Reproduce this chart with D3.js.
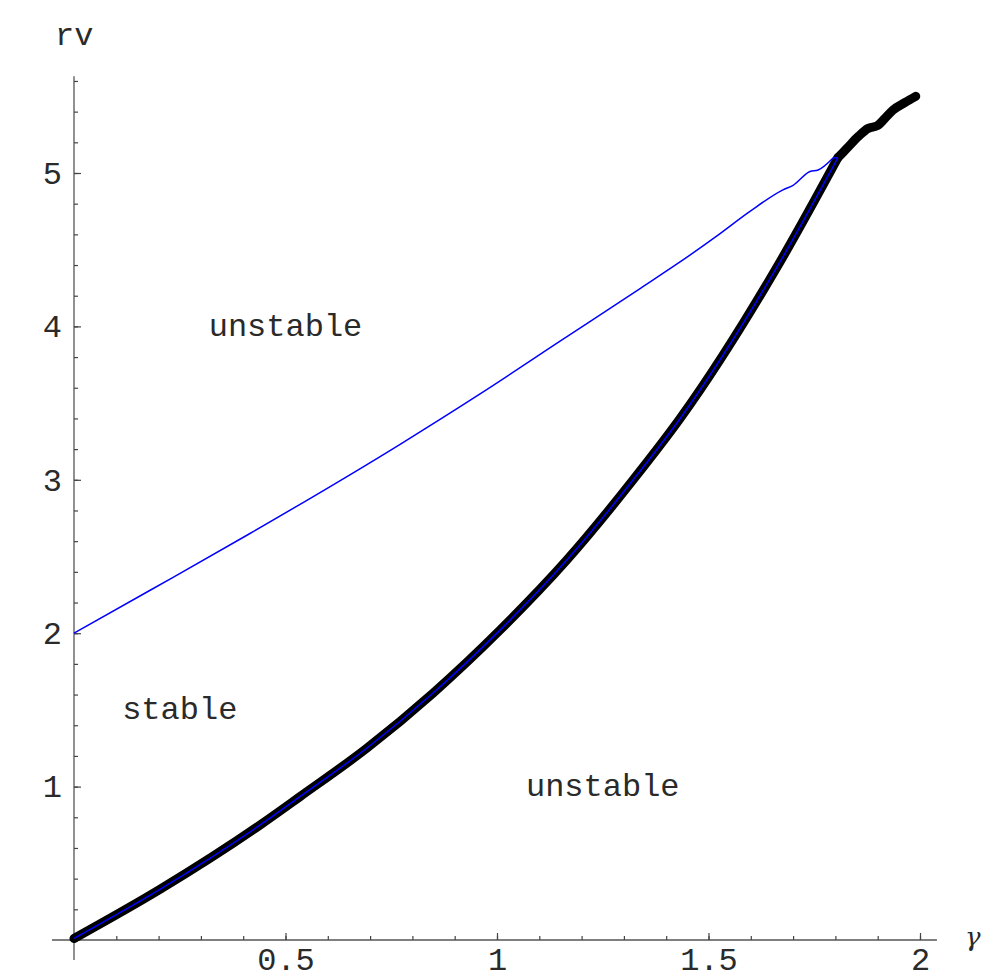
<!DOCTYPE html>
<html>
<head>
<meta charset="utf-8">
<script src="https://cdn.jsdelivr.net/npm/d3@7"></script>
<style>
  body { margin: 0; background: #fff; }
  text { font-family: "Liberation Mono", "Courier New", monospace; fill: #2a2a2a; }
</style>
</head>
<body>
<div id="chart"></div>
<script>
// upper boundary (thin blue)
var upperGamma = [0, 0.18, 0.416, 0.77, 0.96, 1.15, 1.34, 1.43, 1.52, 1.598, 1.676, 1.70, 1.74, 1.759, 1.795];
var upperRv    = [2.0, 2.28, 2.65, 3.23, 3.56, 3.905, 4.25, 4.415, 4.59, 4.75, 4.89, 4.92, 5.01, 5.02, 5.10];

// lower boundary (thick black with blue centre)
var lowerGamma = [0, 0.203, 0.44, 0.534, 0.692, 0.849, 1.007, 1.165, 1.322, 1.433, 1.669, 1.806];
var lowerRv    = [0.01, 0.33, 0.75, 0.934, 1.25, 1.61, 2.02, 2.477, 3.0, 3.40, 4.42, 5.10];

// merged branch beyond the junction (thick black only)
var tailGamma = [1.806, 1.827, 1.855, 1.877, 1.90, 1.915, 1.936, 1.965, 1.99];
var tailRv    = [5.10, 5.16, 5.24, 5.29, 5.31, 5.35, 5.41, 5.46, 5.50];

var xMajor = [0.5, 1, 1.5, 2];
var yMajor = [1, 2, 3, 4, 5];

var labels = [
  {text: "unstable", g: 0.5, r: 4.0},
  {text: "stable", g: 0.25, r: 1.5},
  {text: "unstable", g: 1.25, r: 1.0}
];

var width = 982, height = 973;
var fontSize = "32px";

var x = d3.scaleLinear().domain([0, 2]).range([74, 920]);
var y = d3.scaleLinear().domain([0, 5]).range([940, 173]);

var svg = d3.select("#chart").append("svg")
    .attr("width", width)
    .attr("height", height);

function pts(gs, rs) {
  return gs.map(function(g, i) { return [g, rs[i]]; });
}

// axes lines
svg.append("line")
    .attr("x1", x(-0.052)).attr("x2", x(2.04))
    .attr("y1", y(0)).attr("y2", y(0))
    .attr("stroke", "#555").attr("stroke-width", 1.3);
svg.append("line")
    .attr("x1", x(0)).attr("x2", x(0))
    .attr("y1", y(-0.13)).attr("y2", y(5.63))
    .attr("stroke", "#555").attr("stroke-width", 1.3);

// minor ticks
var xMinor = d3.range(1, 21).map(function(i) { return i / 10; });
var yMinor = d3.range(1, 29).map(function(i) { return i / 5; });

var xMinorAxis = svg.append("g")
    .attr("transform", "translate(0," + y(0) + ")")
    .call(d3.axisBottom(x).tickValues(xMinor).tickSize(-4).tickFormat(""));
var yMinorAxis = svg.append("g")
    .attr("transform", "translate(" + x(0) + ",0)")
    .call(d3.axisLeft(y).tickValues(yMinor).tickSize(-4).tickFormat(""));

// major ticks with labels
var xAxis = svg.append("g")
    .attr("transform", "translate(0," + y(0) + ")")
    .call(d3.axisBottom(x).tickValues(xMajor).tickSize(-7).tickPadding(7)
          .tickFormat(function(d) { return String(d); }));
var yAxis = svg.append("g")
    .attr("transform", "translate(" + x(0) + ",0)")
    .call(d3.axisLeft(y).tickValues(yMajor).tickSize(-7).tickPadding(12)
          .tickFormat(function(d) { return String(d); }));

[xMinorAxis, yMinorAxis, xAxis, yAxis].forEach(function(a) {
  a.select(".domain").remove();
  a.selectAll("line").attr("stroke", "#444").attr("stroke-width", 1.2);
  a.selectAll("text")
      .style("font-family", "'Liberation Mono', 'Courier New', monospace")
      .style("font-size", fontSize)
      .attr("fill", "#2a2a2a");
});

// axis titles
svg.append("text")
    .attr("x", 55).attr("y", 45)
    .style("font-size", fontSize)
    .text("rv");
svg.append("text")
    .attr("x", 965).attr("y", 946)
    .style("font-size", "26px")
    .style("font-family", "'DejaVu Serif', serif")
    .style("font-style", "italic")
    .text("γ");

// curves
var smooth = d3.line()
    .x(function(d) { return x(d[0]); })
    .y(function(d) { return y(d[1]); })
    .curve(d3.curveMonotoneX);

var lower = pts(lowerGamma, lowerRv);
var upper = pts(upperGamma, upperRv);
var tail = pts(tailGamma, tailRv);

svg.append("path")
    .attr("d", smooth(lower))
    .attr("fill", "none").attr("stroke", "#000")
    .attr("stroke-width", 9).attr("stroke-linecap", "round").attr("stroke-linejoin", "round");
svg.append("path")
    .attr("d", smooth(tail))
    .attr("fill", "none").attr("stroke", "#000")
    .attr("stroke-width", 9).attr("stroke-linecap", "round").attr("stroke-linejoin", "round");

svg.append("path")
    .attr("d", smooth(lower))
    .attr("fill", "none").attr("stroke", "#0000ff").attr("stroke-width", 1.5);
svg.append("path")
    .attr("d", smooth(upper) + "L" + x(lowerGamma[lowerGamma.length - 1]) + "," +
               y(lowerRv[lowerRv.length - 1]))
    .attr("fill", "none").attr("stroke", "#0000ff").attr("stroke-width", 1.5)
    .attr("stroke-linejoin", "round");

// region labels
svg.selectAll(".region")
    .data(labels)
  .enter().append("text")
    .attr("class", "region")
    .attr("x", function(d) { return x(d.g); })
    .attr("y", function(d) { return y(d.r); })
    .attr("dy", "0.29em")
    .style("text-anchor", "middle")
    .style("font-size", fontSize)
    .text(function(d) { return d.text; });
</script>
</body>
</html>
